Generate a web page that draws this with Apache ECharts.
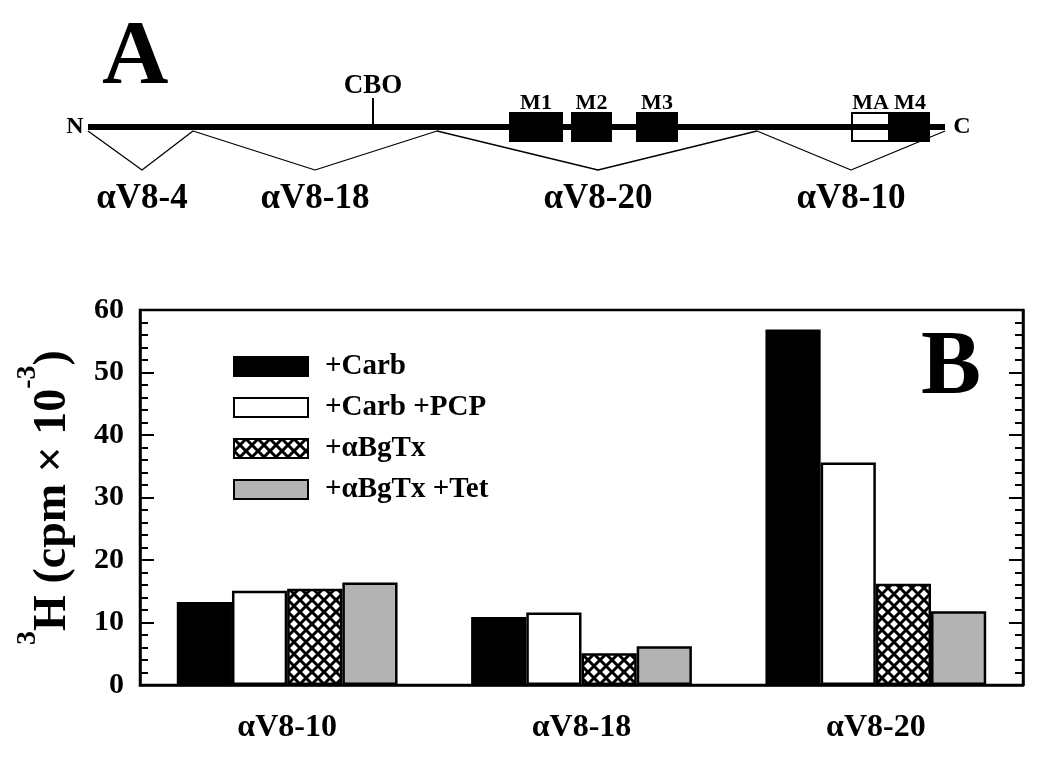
<!DOCTYPE html>
<html>
<head>
<meta charset="utf-8">
<script src="https://cdn.jsdelivr.net/npm/echarts@6/dist/echarts.min.js"></script>
<style>
  html, body { margin: 0; padding: 0; background: #fff; }
  #chart { width: 1050px; height: 762px; }
</style>
</head>
<body>
<div id="chart"></div>
<script>
// panel B data
const categories = ['αV8-10', 'αV8-18', 'αV8-20']
const seriesNames = ['+Carb', '+Carb +PCP', '+αBgTx', '+αBgTx +Tet']
const carb = [13.3, 10.9, 56.9]
const carbPcp = [15.1, 11.6, 35.6]
const bgtx = [15.4, 5.1, 16.2]
const bgtxTet = [16.4, 6.2, 11.8]
const yTicks = [0, 10, 20, 30, 40, 50, 60]

// panel A diagram, positions along the backbone (units)
const backbone = [0, 857]
const cboPos = 285
const domainNames = ['M1', 'M2', 'M3', 'MA', 'M4']
const domainStart = [422, 484, 549, 764, 803]
const domainEnd = [474, 523, 589, 801, 841]
const insertNames = ['αV8-4', 'αV8-18', 'αV8-20', 'αV8-10']
const insertStart = [0, 105, 349, 669]
const insertMid = [54, 227, 510, 763]
const insertEnd = [105, 349, 669, 857]

const FONT = "'Liberation Serif', 'Times New Roman', serif"

// cross-hatch fill
function hatch() {
  const c = document.createElement('canvas')
  c.width = 12
  c.height = 12
  const ctx = c.getContext('2d')
  ctx.fillStyle = '#fff'
  ctx.fillRect(0, 0, 12, 12)
  ctx.strokeStyle = '#000'
  ctx.lineWidth = 3
  for (const k of [-12, 0, 12]) {
    ctx.beginPath()
    ctx.moveTo(k, 0); ctx.lineTo(k + 12, 12)
    ctx.moveTo(k + 12, 0); ctx.lineTo(k, 12)
    ctx.stroke()
  }
  return c
}

const chart = echarts.init(document.getElementById('chart'))

// zigzag under the backbone
const zigzag = []
insertStart.forEach((s, i) => {
  zigzag.push([s, -4], [insertMid[i], -43])
})
zigzag.push([insertEnd[insertEnd.length - 1], -4])

const txt = (size) => ({ fontFamily: FONT, fontWeight: 'bold', fontSize: size, color: '#000' })

const textPoints = [
  { value: [cboPos, 41], label: { formatter: 'CBO', ...txt(27) } },
  { value: [backbone[0] - 13, 0], label: { formatter: 'N', ...txt(24) } },
  { value: [backbone[1] + 17, 0], label: { formatter: 'C', ...txt(24) } }
]
domainNames.forEach((n, i) => {
  textPoints.push({ value: [(domainStart[i] + domainEnd[i]) / 2, 24], label: { formatter: n, ...txt(22) } })
})
insertNames.forEach((n, i) => {
  textPoints.push({ value: [insertMid[i], -72], label: { formatter: n, ...txt(35) } })
})

const barStyle = (color) => ({ color, borderColor: '#000', borderWidth: 2.5 })
const fills = ['#000', '#fff', { image: hatch(), repeat: 'repeat' }, '#b3b3b3']
const values = [carb, carbPcp, bgtx, bgtxTet]

const yAxisB = (right) => ({
  type: 'value',
  gridIndex: 1,
  position: right ? 'right' : 'left',
  min: yTicks[0],
  max: yTicks[yTicks.length - 1],
  interval: 10,
  axisLine: { show: true, lineStyle: { color: '#000', width: 2.5 } },
  axisTick: { show: true, inside: true, length: 14, lineStyle: { color: '#000', width: 2 } },
  minorTick: { show: true, splitNumber: 5, length: 8, lineStyle: { color: '#000', width: 2 } },
  splitLine: { show: false },
  axisLabel: { show: !right, margin: 16, ...txt(30) },
  name: right ? '' : '{sup|3}{b|H (cpm × 10}{sup|-3}{b|)}',
  nameLocation: 'middle',
  nameRotate: 90,
  nameGap: 64,
  nameTextStyle: {
    rich: {
      b: { ...txt(46), lineHeight: 62, verticalAlign: 'bottom' },
      sup: { ...txt(28), lineHeight: 62, verticalAlign: 'top' }
    }
  }
})

chart.setOption({
  animation: false,
  backgroundColor: '#fff',
  title: [
    { text: 'A', left: 97, top: 8, textStyle: txt(92) },
    { text: 'B', left: 916, top: 320, textStyle: txt(90) }
  ],
  legend: {
    orient: 'vertical',
    left: 233,
    top: 352,
    padding: 0,
    icon: 'rect',
    itemWidth: 74,
    itemHeight: 19,
    itemGap: 12,
    data: seriesNames,
    textStyle: { ...txt(29), lineHeight: 28, padding: [0, 0, 0, 12] }
  },
  grid: [
    { left: 0, right: 0, top: 0, height: 254 },
    { left: 140, right: 27, top: 310, bottom: 77, show: true, borderColor: '#000', borderWidth: 2.5 }
  ],
  xAxis: [
    { type: 'value', gridIndex: 0, min: -88, max: 962, show: false },
    {
      type: 'category',
      gridIndex: 1,
      data: categories,
      axisLine: { lineStyle: { color: '#000', width: 2.5 } },
      axisTick: { show: false },
      axisLabel: { margin: 27, ...txt(32) }
    }
  ],
  yAxis: [
    { type: 'value', gridIndex: 0, min: -127, max: 127, show: false },
    yAxisB(false),
    yAxisB(true)
  ],
  series: [
    {
      type: 'line', xAxisIndex: 0, yAxisIndex: 0, symbol: 'none', silent: true,
      data: zigzag, lineStyle: { color: '#000', width: 1.3 }
    },
    {
      type: 'line', xAxisIndex: 0, yAxisIndex: 0, symbol: 'none', silent: true,
      data: [[backbone[0], 0], [backbone[1], 0]], lineStyle: { color: '#000', width: 6 }
    },
    {
      type: 'line', xAxisIndex: 0, yAxisIndex: 0, symbol: 'none', silent: true,
      data: [[cboPos, 0], [cboPos, 29]], lineStyle: { color: '#000', width: 2 }
    },
    {
      type: 'custom', xAxisIndex: 0, yAxisIndex: 0, silent: true,
      data: domainNames.map((n, i) => [domainStart[i], domainEnd[i]]),
      renderItem: (params, api) => {
        const p0 = api.coord([api.value(0), 14])
        const p1 = api.coord([api.value(1), -14])
        const open = domainNames[params.dataIndex] === 'MA'
        return {
          type: 'rect',
          shape: { x: p0[0], y: p0[1], width: p1[0] - p0[0], height: p1[1] - p0[1] },
          style: { fill: open ? '#fff' : '#000', stroke: '#000', lineWidth: 2 }
        }
      }
    },
    {
      type: 'scatter', xAxisIndex: 0, yAxisIndex: 0, symbolSize: 0, silent: true,
      itemStyle: { opacity: 1 },
      data: textPoints,
      label: { show: true, position: 'inside' }
    },
    ...seriesNames.map((name, i) => ({
      name,
      type: 'bar',
      xAxisIndex: 1,
      yAxisIndex: 1,
      barGap: '0%',
      barCategoryGap: '25%',
      data: values[i],
      itemStyle: barStyle(fills[i])
    }))
  ]
})
</script>
</body>
</html>
